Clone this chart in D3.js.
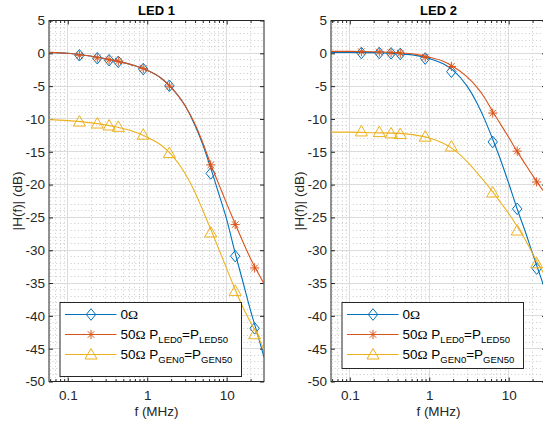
<!DOCTYPE html>
<html>
<head>
<meta charset="utf-8">
<script src="https://cdn.jsdelivr.net/npm/d3@7"></script>
<style>
  body { margin: 0; background: #fff; }
  svg { display: block; font-family: "Liberation Sans", Arial, Helvetica, sans-serif; }
</style>
</head>
<body>
<svg id="chart" width="543" height="429"></svg>
<script>
// ---- data -------------------------------------------------------------
const panelTitles = ["LED 1", "LED 2"];

// measured frequencies (MHz)
const markerFreq = [0.14, 0.235, 0.331, 0.432, 0.89, 1.9, 6.3, 12.8, 22.5];

// measured |H(f)| in dB
const led1Zero = [-0.3, -0.75, -1.05, -1.3, -2.4, -4.95, -18.3, -30.9, -41.9];
const led1Led  = [-0.3, -0.7, -1.0, -1.2, -2.3, -5.0, -17.0, -26.1, -32.7];
const led1Gen  = [-10.4, -10.7, -11.0, -11.2, -12.4, -15.2, -27.3, -36.2, -42.8];

const led2Zero = [0.05, 0.05, 0.0, -0.1, -0.8, -2.8, -13.5, -23.7, -32.8];
const led2Led  = [0.25, 0.2, 0.1, 0.0, -0.6, -2.0, -9.1, -14.9, -19.6];
const led2Gen  = [-11.9, -12.0, -12.2, -12.3, -12.7, -14.2, -21.2, -27.0, -32.0];

// fitted response curves, sampled (MHz / dB)
const fitFreq = [0.058, 0.1, 0.2, 0.4, 0.7, 1, 1.5, 2, 3, 4, 5, 6.3, 8, 10, 12.7, 16, 20, 25, 29.5];

const led1ZeroFit = [0.15, 0.0, -0.45, -1.15, -1.9, -2.6, -3.8, -5.2, -8.0, -11.0, -13.9, -17.5, -21.5, -25.3, -30.3, -34.8, -39.2, -43.2, -46.3];
const led1LedFit  = [0.15, 0.0, -0.45, -1.15, -1.9, -2.6, -3.8, -5.2, -8.0, -10.8, -13.6, -16.9, -20.0, -22.9, -25.9, -28.7, -31.3, -33.5, -35.1];
const led1GenFit  = [-10.1, -10.25, -10.6, -11.2, -12.0, -12.8, -14.0, -15.4, -18.3, -21.2, -23.9, -26.8, -29.9, -32.8, -35.9, -38.7, -41.0, -43.2, -45.2];

const led2ZeroFit = [0.15, 0.15, 0.1, -0.05, -0.35, -0.8, -1.6, -2.6, -5.0, -7.6, -10.1, -13.1, -16.4, -19.8, -23.6, -27.0, -30.5, -33.9, -36.4];
const led2LedFit  = [0.3, 0.3, 0.25, 0.1, -0.2, -0.6, -1.2, -2.0, -3.6, -5.2, -6.8, -8.9, -10.9, -12.8, -14.9, -16.8, -18.6, -20.3, -21.5];
const led2GenFit  = [-12.0, -12.0, -12.1, -12.2, -12.5, -12.9, -13.7, -14.6, -16.5, -18.2, -19.6, -21.1, -22.8, -24.4, -26.3, -28.3, -30.5, -32.6, -34.1];

// axis ticks
const xTickValues = [0.1, 1, 10];
const xTickLabels = ["0.1", "1", "10"];
const yTickValues = [5, 0, -5, -10, -15, -20, -25, -30, -35, -40, -45, -50];
const yTickLabels = ["5", "0", "-5", "-10", "-15", "-20", "-25", "-30", "-35", "-40", "-45", "-50"];

// legend entries as text runs: n = normal, o = symbol (Omega), s = subscript
const legendEntries = [
  [["0", "n"], ["\u03A9", "o"]],
  [["50", "n"], ["\u03A9", "o"], [" P", "n"], ["LED0", "s"], ["=P", "n"], ["LED50", "s"]],
  [["50", "n"], ["\u03A9", "o"], [" P", "n"], ["GEN0", "s"], ["=P", "n"], ["GEN50", "s"]]
];
const seriesColors = ["#0072BD", "#D95319", "#EDB120"];
const seriesMarkers = ["diamond", "asterisk", "triangle"];

const panels = [
  { title: panelTitles[0], left: 49, legendH: 74, measured: [led1Zero, led1Led, led1Gen], fits: [led1ZeroFit, led1LedFit, led1GenFit] },
  { title: panelTitles[1], left: 331, legendH: 66, measured: [led2Zero, led2Led, led2Gen], fits: [led2ZeroFit, led2LedFit, led2GenFit] }
];

// ---- layout -----------------------------------------------------------
const plotW = 215, plotTop = 20.5, plotBottom = 381.5;
const axisColor = "#262626";
const tickFont = "13.5px";
const svg = d3.select("#chart");

function markerPath(kind) {
  if (kind === "diamond") return "M0,-5.8L4.7,0L0,5.8L-4.7,0Z";
  if (kind === "triangle") return "M0,-6L6,4.5L-6,4.5Z";
  const r = 4.6, d = r * 0.7071;
  return `M0,${-r}V${r}M${-r},0H${r}M${-d},${-d}L${d},${d}M${-d},${d}L${d},${-d}`;
}

panels.forEach((p, pi) => {
  const x = d3.scaleLog().domain([0.058, 29.5]).range([p.left, p.left + plotW]);
  const y = d3.scaleLinear().domain([-50, 5]).range([plotBottom, plotTop]);
  const g = svg.append("g");

  const clipId = "clip" + pi;
  svg.append("clipPath").attr("id", clipId)
    .append("rect").attr("x", p.left).attr("y", plotTop).attr("width", plotW).attr("height", plotBottom - plotTop);

  // minor grid
  const minorX = [];
  [0.01, 0.1, 1, 10].forEach(dec => { for (let m = 2; m <= 9; m++) { const v = dec * m; if (v > 0.058 && v < 29.5) minorX.push(v); } });
  const minorY = d3.range(-49, 5).filter(v => v % 5 !== 0);
  const crisp = v => Math.round(v - 0.5) + 0.5;

  const grid = g.append("g").attr("clip-path", `url(#${clipId})`);
  grid.selectAll(".mx").data(minorX).join("line")
    .attr("x1", d => crisp(x(d))).attr("x2", d => crisp(x(d)))
    .attr("y1", plotTop).attr("y2", plotBottom)
    .attr("stroke", "#cbcbcb").attr("stroke-width", 1).attr("stroke-dasharray", "1,2.6");
  grid.selectAll(".my").data(minorY).join("line")
    .attr("x1", p.left).attr("x2", p.left + plotW)
    .attr("y1", d => crisp(y(d))).attr("y2", d => crisp(y(d)))
    .attr("stroke", "#cbcbcb").attr("stroke-width", 1).attr("stroke-dasharray", "1,2.6");
  grid.selectAll(".Mx").data(xTickValues).join("line")
    .attr("x1", d => crisp(x(d))).attr("x2", d => crisp(x(d)))
    .attr("y1", plotTop).attr("y2", plotBottom)
    .attr("stroke", "#dcdcdc").attr("stroke-width", 1);
  grid.selectAll(".My").data(yTickValues).join("line")
    .attr("x1", p.left).attr("x2", p.left + plotW)
    .attr("y1", d => crisp(y(d))).attr("y2", d => crisp(y(d)))
    .attr("stroke", "#dcdcdc").attr("stroke-width", 1);

  // axes (ticks point inward)
  const styleAxis = sel => {
    sel.select(".domain").remove();
    sel.selectAll("line").attr("stroke", axisColor);
    sel.selectAll("text").attr("fill", axisColor).style("font-size", tickFont)
      .style("font-family", "'Liberation Sans', Arial, sans-serif");
  };
  g.append("g").attr("transform", `translate(0,${plotBottom})`)
    .call(d3.axisBottom(x).tickValues(xTickValues).tickFormat((d, i) => xTickLabels[i]).tickSize(-4).tickPadding(9))
    .call(styleAxis);
  g.append("g").attr("transform", `translate(0,${plotBottom})`)
    .call(d3.axisBottom(x).tickValues(minorX).tickFormat("").tickSize(-2.5))
    .call(styleAxis);
  g.append("g").attr("transform", `translate(0,${plotTop})`)
    .call(d3.axisTop(x).tickValues(xTickValues).tickFormat("").tickSize(-4))
    .call(styleAxis);
  g.append("g").attr("transform", `translate(0,${plotTop})`)
    .call(d3.axisTop(x).tickValues(minorX).tickFormat("").tickSize(-2.5))
    .call(styleAxis);
  g.append("g").attr("transform", `translate(${p.left},0)`)
    .call(d3.axisLeft(y).tickValues(yTickValues).tickFormat((d, i) => yTickLabels[i]).tickSize(-4).tickPadding(4))
    .call(styleAxis);
  g.append("g").attr("transform", `translate(${p.left + plotW},0)`)
    .call(d3.axisRight(y).tickValues(yTickValues).tickFormat("").tickSize(-4))
    .call(styleAxis);

  // frame
  g.append("rect").attr("x", p.left).attr("y", plotTop).attr("width", plotW).attr("height", plotBottom - plotTop)
    .attr("fill", "none").attr("stroke", axisColor).attr("stroke-width", 1);

  // series: fitted curve + measured markers
  const line = d3.line().x(d => x(d[0])).y(d => y(d[1])).curve(d3.curveMonotoneX);
  const series = g.append("g");
  p.fits.forEach((fit, si) => {
    const s = series.append("g");
    s.append("path").attr("clip-path", `url(#${clipId})`)
      .datum(fitFreq.map((f, i) => [f, fit[i]]))
      .attr("d", line).attr("fill", "none")
      .attr("stroke", seriesColors[si]).attr("stroke-width", 1.1);
    s.selectAll("path.mk").data(markerFreq.map((f, i) => [f, p.measured[si][i]]))
      .join("path").attr("class", "mk")
      .attr("transform", d => `translate(${x(d[0])},${y(d[1])})`)
      .attr("d", markerPath(seriesMarkers[si]))
      .attr("fill", "none").attr("stroke", seriesColors[si]).attr("stroke-width", 1);
  });

  // title & labels
  g.append("text").attr("x", p.left + plotW / 2).attr("y", 14.5).attr("text-anchor", "middle")
    .style("font-size", "13px").style("font-weight", "bold").attr("fill", "#000").text(p.title);
  g.append("text").attr("x", p.left + plotW / 2).attr("y", 416).attr("text-anchor", "middle")
    .style("font-size", tickFont).attr("fill", axisColor).text("f (MHz)");
  g.append("text").attr("transform", `translate(${p.left - 27.5},${(plotTop + plotBottom) / 2}) rotate(-90)`)
    .attr("text-anchor", "middle").style("font-size", tickFont).attr("fill", axisColor).text("|H(f)| (dB)");

  // legend
  const lx = p.left + 11, ly = 302.5, lw = 181.5, lh = p.legendH;
  const lg = g.append("g");
  lg.append("rect").attr("x", lx).attr("y", ly).attr("width", lw).attr("height", lh)
    .attr("fill", "#fff").attr("stroke", axisColor).attr("stroke-width", 1);
  legendEntries.forEach((entry, si) => {
    const cy = ly + 12 + si * 20;
    lg.append("line").attr("x1", lx + 5).attr("x2", lx + 56.5).attr("y1", cy).attr("y2", cy)
      .attr("stroke", seriesColors[si]).attr("stroke-width", 1.1);
    lg.append("path").attr("transform", `translate(${lx + 31},${cy})`)
      .attr("d", markerPath(seriesMarkers[si]))
      .attr("fill", "none").attr("stroke", seriesColors[si]).attr("stroke-width", 1);
    const t = lg.append("text").attr("x", lx + 60.5).attr("y", cy + 4.8)
      .attr("fill", "#000").style("font-size", "13.5px");
    let shifted = false;
    entry.forEach(([str, kind]) => {
      const ts = t.append("tspan").text(str);
      if (kind === "o") ts.style("font-family", "'Liberation Serif', 'Times New Roman', serif");
      if (kind === "s") {
        ts.style("font-size", "9.5px");
        if (!shifted) { ts.attr("dy", 4); shifted = true; }
      } else if (shifted) {
        ts.attr("dy", -4); shifted = false;
      }
    });
  });
});
</script>
</body>
</html>
